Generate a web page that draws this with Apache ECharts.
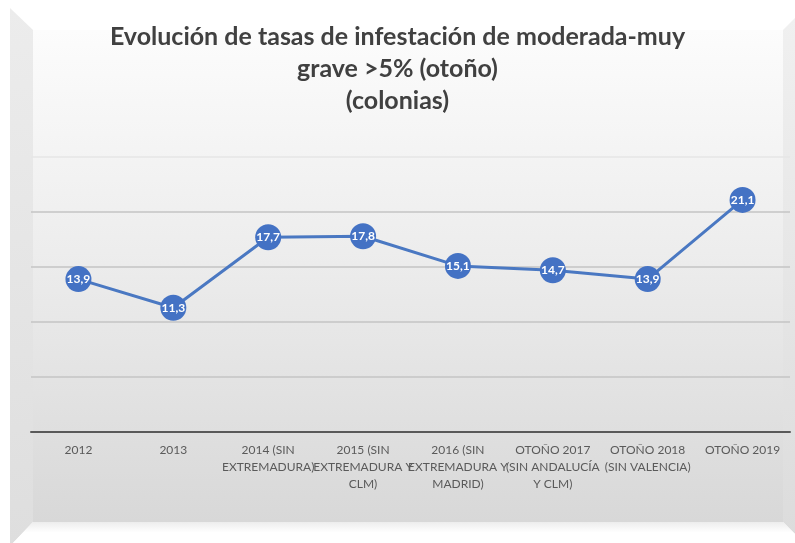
<!DOCTYPE html>
<html lang="es">
<head>
    <meta charset="UTF-8">
    <title>Evolución de tasas de infestación</title>
    <script src="https://cdn.jsdelivr.net/npm/echarts@6/dist/echarts.min.js"></script>
    <style>
        html, body { margin: 0; padding: 0; background: #fff; }
    </style>
</head>
<body>
<div id="chart" style="width: 795px;height: 543px"></div>

<script>
    var categories = [
        '2012',
        '2013',
        '2014 (SIN\nEXTREMADURA)',
        '2015 (SIN\nEXTREMADURA Y\nCLM)',
        '2016 (SIN\nEXTREMADURA Y\nMADRID)',
        'OTOÑO 2017\n(SIN ANDALUCÍA\nY CLM)',
        'OTOÑO 2018\n(SIN VALENCIA)',
        'OTOÑO 2019'
    ];
    var tasas = [13.9, 11.3, 17.7, 17.8, 15.1, 14.7, 13.9, 21.1];
    var yMin = 0, yMax = 25, yStep = 5;

    var chartDom = document.getElementById('chart');
    var myChart = echarts.init(chartDom);
    var option;

    // marco con efecto 3D como en el gráfico de Excel
    var frame = [
        {
            type: 'rect', z: -10, silent: true,
            shape: { x: 0, y: 0, width: 795, height: 543 },
            style: { fill: '#ffffff' }
        },
        {
            type: 'rect', z: -9, silent: true,
            shape: { x: 33, y: 30, width: 750, height: 492 },
            style: {
                fill: new echarts.graphic.LinearGradient(0, 0, 0, 1, [
                    { offset: 0, color: '#fcfcfc' },
                    { offset: 0.45, color: '#ededed' },
                    { offset: 1, color: '#d8d8d8' }
                ])
            }
        },
        {
            type: 'polygon', z: -9, silent: true,
            shape: { points: [[10, 8], [33, 30], [33, 522], [13, 543], [10, 543]] },
            style: {
                fill: new echarts.graphic.LinearGradient(0, 0, 0, 1, [
                    { offset: 0, color: '#ececec' },
                    { offset: 1, color: '#dedede' }
                ])
            }
        },
        {
            type: 'polygon', z: -9, silent: true,
            shape: { points: [[795, 18], [783, 30], [783, 522], [795, 534]] },
            style: {
                fill: new echarts.graphic.LinearGradient(0, 0, 0, 1, [
                    { offset: 0, color: '#f0f0f0' },
                    { offset: 1, color: '#dcdcdc' }
                ])
            }
        },
        {
            type: 'polygon', z: -9, silent: true,
            shape: { points: [[33, 522], [783, 522], [795, 534], [795, 543], [13, 543]] },
            style: {
                fill: new echarts.graphic.LinearGradient(0, 0, 0, 1, [
                    { offset: 0, color: '#ededed' },
                    { offset: 0.5, color: '#ffffff' },
                    { offset: 1, color: '#ffffff' }
                ])
            }
        }
    ];

    option = {
        animation: false,
        graphic: frame,
        title: {
            text: 'Evolución de tasas de infestación de moderada-muy\ngrave >5% (otoño)\n(colonias)',
            left: 'center',
            top: 16,
            textStyle: {
                fontFamily: 'Lato',
                fontSize: 25,
                fontWeight: 'bold',
                color: '#404040',
                lineHeight: 32
            }
        },
        grid: {
            left: 31,
            right: 5,
            top: 157,
            bottom: 111,
            containLabel: false
        },
        xAxis: {
            type: 'category',
            data: categories,
            boundaryGap: true,
            axisLine: { lineStyle: { color: '#595959', width: 2 } },
            axisTick: { show: false },
            axisLabel: {
                interval: 0,
                margin: 10,
                fontFamily: 'Lato',
                fontSize: 12,
                lineHeight: 17,
                color: '#5a5a5a'
            }
        },
        yAxis: {
            type: 'value',
            min: yMin,
            max: yMax,
            interval: yStep,
            axisLabel: { show: false },
            axisLine: { show: false },
            axisTick: { show: false },
            splitLine: {
                lineStyle: {
                    color: ['#c4c4c4', '#c4c4c4', '#c4c4c4', '#c4c4c4', '#c4c4c4', '#e6e6e6'],
                    width: 1.5
                }
            }
        },
        series: [
            {
                type: 'line',
                data: tasas,
                symbol: 'circle',
                symbolSize: 26,
                lineStyle: { color: '#4a78c2', width: 3 },
                itemStyle: { color: '#4472c4' },
                label: {
                    show: true,
                    position: 'inside',
                    color: '#ffffff',
                    fontFamily: 'Lato',
                    fontWeight: 'bold',
                    fontSize: 12,
                    formatter: function (p) {
                        return String(p.value).replace('.', ',');
                    }
                }
            }
        ]
    };

    option && myChart.setOption(option);
</script>
</body>
</html>
